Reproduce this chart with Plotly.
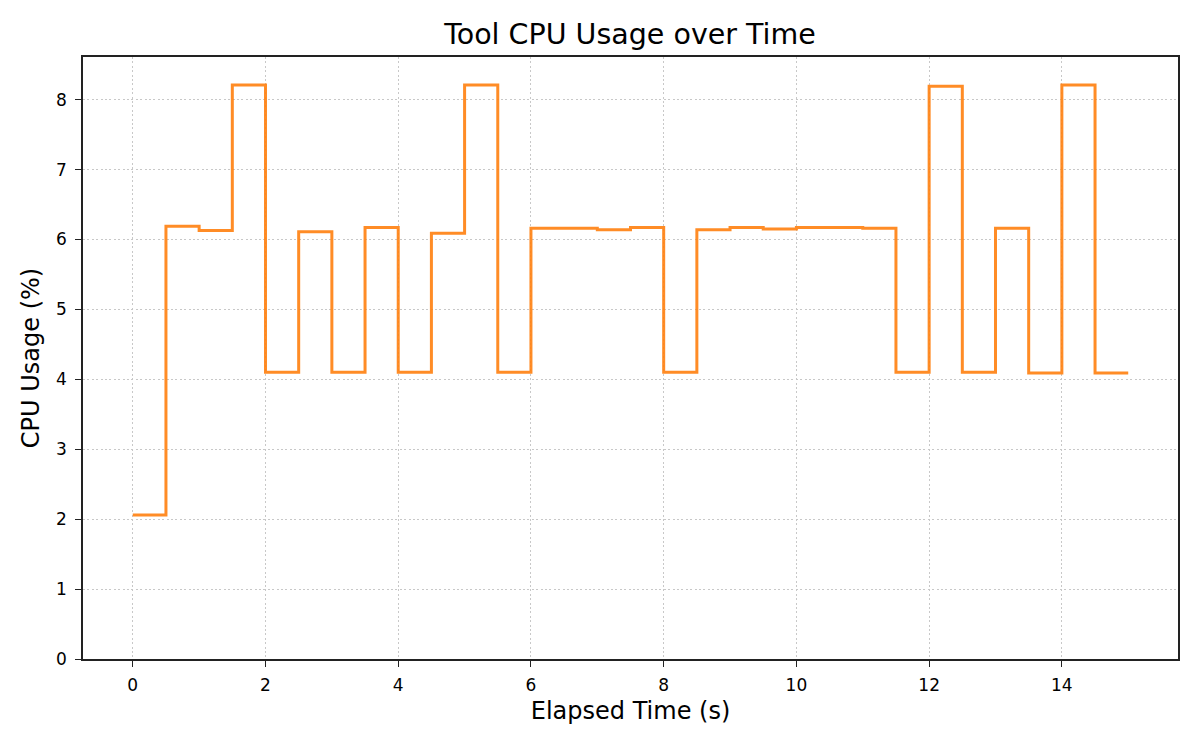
import plotly.graph_objects as go

time_s = [0, 0.5, 1, 1.5, 2, 2.5, 3, 3.5, 4, 4.5, 5, 5.5, 6, 6.5, 7, 7.5, 8, 8.5, 9, 9.5,
          10, 10.5, 11, 11.5, 12, 12.5, 13, 13.5, 14, 14.5, 15]
cpu_pct = [2.06, 6.19, 6.13, 8.21, 4.10, 6.11, 4.10, 6.17, 4.10, 6.09, 8.21, 4.10, 6.16, 6.16,
           6.14, 6.17, 4.10, 6.14, 6.17, 6.15, 6.17, 6.17, 6.16, 4.10, 8.19, 4.10, 6.16, 4.09,
           8.21, 4.09, 4.09]
x_ticks = [0, 2, 4, 6, 8, 10, 12, 14]
y_ticks = [0, 1, 2, 3, 4, 5, 6, 7, 8]

FONT = "DejaVu Sans"
W, H = 1184, 734  # page body has an 8px margin

fig = go.Figure()
fig.add_trace(go.Scatter(
    x=time_s, y=cpu_pct, mode="lines",
    line=dict(shape="hv", color="rgba(255,127,14,0.9)", width=3),
    showlegend=False,
))

axis_common = dict(
    showline=True, linecolor="#222222", linewidth=1.6, mirror=True,
    ticks="outside", ticklen=6, tickwidth=1.3, tickcolor="#222222",
    showgrid=True, gridcolor="#c8c8c8", griddash="2px,2.4px", gridwidth=1.3,
    zeroline=False,
    tickfont=dict(family=FONT, size=17, color="#000000"),
)

fig.update_layout(
    width=W, height=H,
    paper_bgcolor="white", plot_bgcolor="white",
    margin=dict(l=75, r=14, t=49, b=83),
    title=dict(text="Tool CPU Usage over Time", x=(630 - 8) / W, xanchor="center",
               y=1 - 26 / H, yanchor="middle",
               font=dict(family=FONT, size=28.5, color="#000000")),
    xaxis=dict(range=[-0.75, 15.75], tickvals=x_ticks, ticklabelstandoff=4,
               title=dict(text="Elapsed Time (s)", font=dict(family=FONT, size=24, color="#000000"),
                          standoff=8),
               **axis_common),
    yaxis=dict(range=[0, 8.61], tickvals=y_ticks, ticklabelstandoff=5,
               title=dict(text="CPU Usage (%)", font=dict(family=FONT, size=24, color="#000000"),
                          standoff=10),
               **axis_common),
)

fig.write_html("out.html")
